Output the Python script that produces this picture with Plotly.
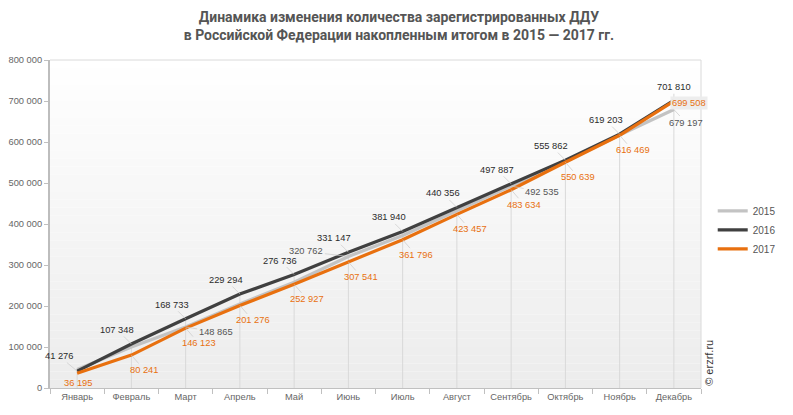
import plotly.graph_objects as go

# ---------------- data ----------------
months = ["Январь", "Февраль", "Март", "Апрель", "Май", "Июнь", "Июль",
          "Август", "Сентябрь", "Октябрь", "Ноябрь", "Декабрь"]
series_names = ["2015", "2016", "2017"]
v2015 = [45000, 100000, 148865, 205000, 258000, 320762, 372000, 433000,
         492535, 553000, 617000, 679197]
v2016 = [41276, 107348, 168733, 229294, 276736, 331147, 381940, 440356,
         497887, 555862, 619203, 701810]
v2017 = [36195, 80241, 146123, 201276, 252927, 307541, 361796, 423457,
         483634, 550639, 616469, 699508]
labeled_2015 = [2, 5, 8, 11]   # months whose 2015 value carries a label
y_ticks = [0, 100000, 200000, 300000, 400000, 500000, 600000, 700000, 800000]

# ---------------- style ----------------
C15, C16, C17 = "#c3c3c3", "#404040", "#e8700f"
LBL15, LBL16, LBL17 = "#555555", "#2b2b2b", "#e8700f"
FONT = "Liberation Sans, Arial, sans-serif"
LBL_SIZE = 9.3
TICK_SIZE = 9.3


def fmt(v):
    return f"{v:,}".replace(",", " ")


fig = go.Figure()

# drop lines from the highest point of each month down to the axis
dx, dy = [], []
for i, m in enumerate(months):
    dx += [m, m, None]
    dy += [0, max(v2015[i], v2016[i], v2017[i]), None]
fig.add_trace(go.Scatter(x=dx, y=dy, mode="lines", showlegend=False,
                         line=dict(color="#d9d9d9", width=1), hoverinfo="skip"))

for name, vals, col in zip(series_names, [v2015, v2016, v2017], [C15, C16, C17]):
    fig.add_trace(go.Scatter(x=months, y=vals, mode="lines", name=name,
                             line=dict(color=col, width=3.2)))

ann = []


def add_label(i, v, color, ax, ay, bg=None):
    d = dict(x=months[i], y=v, xref="x", yref="y", text=fmt(v),
             showarrow=True, arrowhead=0, arrowwidth=0.7, arrowcolor="#c8c8c8",
             ax=ax, ay=ay, standoff=0,
             font=dict(family=FONT, size=LBL_SIZE, color=color))
    if bg:
        d["bgcolor"] = bg
    ann.append(d)


for i, v in enumerate(v2016):
    ax, ay = (-14, -14)
    if i == 0:
        ax, ay = (-18, -15)
    if i == 11:
        ax, ay = (0, -13)
    add_label(i, v, LBL16, ax, ay)

for i, v in enumerate(v2017):
    ax, ay = (13, 15)
    if i == 0:
        ax, ay = (1, 10)
    if i == 11:
        add_label(i, v, LBL17, 15, 2, bg="rgba(236,236,236,0.95)")
        continue
    add_label(i, v, LBL17, ax, ay)

off15 = {2: (30, 5), 5: (-42, -5), 8: (31, 6), 11: (12, 13)}
for i in labeled_2015:
    ax, ay = off15[i]
    add_label(i, v2015[i], LBL15, ax, ay)

# watermark
ann.append(dict(x=1.012, y=0.0, xref="paper", yref="paper", text="© erzrf.ru",
                textangle=-90, showarrow=False, xanchor="center", yanchor="bottom",
                font=dict(family=FONT, size=11, color="#333333")))

# background gradient of the plot area
shapes = []
N = 40
for k in range(N):
    t = (k + 0.5) / N          # 0 at bottom, 1 at top
    g = int(round(236 + (255 - 236) * t))
    shapes.append(dict(type="rect", xref="x domain", yref="y domain",
                       x0=0, x1=1, y0=k / N, y1=(k + 1) / N, layer="below",
                       line=dict(width=0), fillcolor=f"rgb({g},{g},{g})"))
# top and right border lines
shapes.append(dict(type="line", xref="x domain", yref="y domain", x0=0, x1=1,
                   y0=1, y1=1, line=dict(color="#dadada", width=1), layer="below"))
shapes.append(dict(type="line", xref="x domain", yref="y domain", x0=1, x1=1,
                   y0=0, y1=1, line=dict(color="#dadada", width=1), layer="below"))

# the page body keeps its default 8px margin (figure starts at 8,8 in the window)
fig.update_layout(
    width=785, height=407,
    margin=dict(l=42, r=83, t=52, b=27),
    paper_bgcolor="white", plot_bgcolor="rgba(0,0,0,0)",
    separators=", ",
    title=dict(text="Динамика изменения количества зарегистрированных ДДУ<br>"
                    "в Российской Федерации накопленным итогом в 2015 — 2017 гг.",
               x=0.498, xref="container", xanchor="center",
               y=0.965, yref="container", yanchor="top",
               font=dict(family="Roboto, sans-serif", size=14, color="#555555",
                         weight="bold")),
    legend=dict(x=1.018, y=0.482, xanchor="left", yanchor="middle",
                font=dict(family=FONT, size=10, color="#555555"),
                bgcolor="rgba(0,0,0,0)", tracegroupgap=0),
    shapes=shapes, annotations=ann,
    showlegend=True,
)
fig.update_xaxes(type="category", range=[-0.5, 11.5], showgrid=False,
                 tickson="boundaries", ticks="outside", ticklen=5,
                 tickcolor="#c0c0c0", showline=True, linecolor="#c0c0c0",
                 linewidth=1, zeroline=False, tickangle=0, automargin=False,
                 tickfont=dict(family=FONT, size=TICK_SIZE, color="#666666"))
fig.update_yaxes(range=[0, 800000], tickvals=y_ticks, tickformat=",d",
                 showgrid=False, zeroline=False, ticks="outside", ticklen=4,
                 tickcolor="#c0c0c0", showline=True, linecolor="#bdbdbd",
                 linewidth=2, ticklabelstandoff=0, automargin=False,
                 tickfont=dict(family=FONT, size=TICK_SIZE, color="#666666"))

fig.write_html("out.html")
